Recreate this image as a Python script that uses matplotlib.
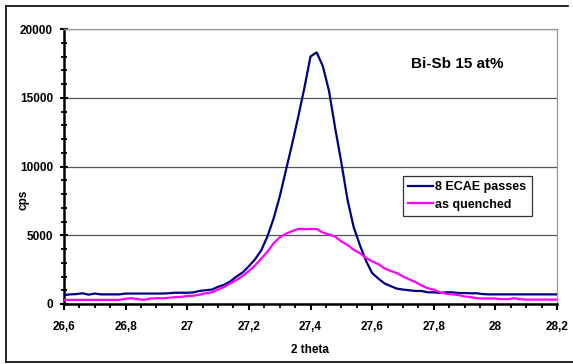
import numpy as np
import matplotlib
matplotlib.use("Agg")
import matplotlib.pyplot as plt
from matplotlib.ticker import MultipleLocator, FuncFormatter
from matplotlib.lines import Line2D

plt.rcParams['font.family'] = ['Liberation Sans', 'DejaVu Sans']
plt.rcParams['font.weight'] = 'bold'

# 2 theta sampling grid, 0.02 steps
two_theta = np.round(np.linspace(26.6, 28.2, 81), 2)

# 8 ECAE passes
ecae = [650, 700, 720, 780, 680, 760, 700, 700, 700, 700,
        760, 760, 760, 760, 760, 760, 760, 780, 820, 820,
        820, 840, 950, 1000, 1050, 1250, 1400, 1650, 2000, 2300,
        2750, 3250, 3900, 4900, 6200, 7800, 9700, 11600, 13600, 15700,
        18000, 18300, 17300, 15500, 12800, 10300, 7600, 5600, 4300, 3150,
        2250, 1850, 1500, 1300, 1120, 1050, 1000, 950, 950, 850,
        850, 800, 850, 850, 800, 800, 780, 780, 720, 700,
        700, 700, 700, 700, 700, 700, 700, 700, 700, 700, 700]

# as quenched
quenched = [300, 300, 300, 300, 300, 300, 300, 300, 300, 300,
            380, 420, 350, 300, 400, 420, 420, 450, 500, 520,
            580, 600, 680, 780, 850, 1050, 1250, 1500, 1750, 2050,
            2400, 2800, 3300, 3800, 4400, 4850, 5100, 5300, 5450, 5450,
            5450, 5450, 5200, 5050, 4900, 4550, 4300, 3950, 3700, 3350,
            3100, 2900, 2600, 2400, 2250, 2000, 1800, 1600, 1350, 1150,
            1050, 850, 750, 700, 650, 550, 500, 420, 400, 400,
            400, 350, 350, 420, 350, 320, 320, 320, 320, 320, 320]

W, H = 573, 364
fig = plt.figure(figsize=(W / 100, H / 100), dpi=100)
ax = fig.add_axes([64 / W, 1 - 304 / H, (557 - 64) / W, (304 - 29) / H])

ax.plot(two_theta, ecae, color='#000080', lw=1.6, label='8 ECAE passes', zorder=3)
ax.plot(two_theta, quenched, color='#FF00FF', lw=1.6, label='as quenched', zorder=3)

ax.set_xlim(26.6, 28.2)
ax.set_ylim(0, 20000)
ax.xaxis.set_major_locator(MultipleLocator(0.2))
ax.xaxis.set_minor_locator(MultipleLocator(0.05))
ax.yaxis.set_major_locator(MultipleLocator(5000))
ax.yaxis.set_minor_locator(MultipleLocator(1000))
ax.xaxis.set_major_formatter(FuncFormatter(lambda v, p: ('%g' % round(v, 2)).replace('.', ',')))

ax.grid(axis='y', which='major', color='#555555', lw=0.9)
ax.set_axisbelow(True)

for s in ['top', 'right']:
    ax.spines[s].set_color('#999999')
    ax.spines[s].set_linewidth(0.9)
for s in ['left', 'bottom']:
    ax.spines[s].set_color('black')
    ax.spines[s].set_linewidth(1.8)

ax.tick_params(axis='both', which='major', labelsize=8.5, width=1.5, color='black')
ax.tick_params(axis='x', which='both', direction='out')
ax.tick_params(axis='x', which='major', length=4, pad=8)
ax.tick_params(axis='x', which='minor', length=3, width=1.3)
ax.tick_params(axis='y', which='major', direction='inout', length=6, pad=5)
ax.tick_params(axis='y', which='minor', direction='inout', length=4, width=1.3)
for lab in ax.get_xticklabels() + ax.get_yticklabels():
    lab.set_fontweight('bold')

fig.text(24 / W, 1 - 200 / H, 'cps', rotation=90, ha='center', va='center',
         fontsize=8.5, fontweight='bold')
fig.text(310 / W, 1 - 350 / H, '2 theta', ha='center', va='center',
         fontsize=8.5, fontweight='bold')
fig.text(457 / W, 1 - 64 / H, 'Bi-Sb 15 at%', ha='center', va='center',
         fontsize=11, fontweight='bold')

leg = ax.legend(loc='upper left', bbox_to_anchor=(403 / W, 1 - 176 / H),
                bbox_transform=fig.transFigure, fontsize=9, frameon=True,
                fancybox=False, edgecolor='black', handlelength=2.0,
                handletextpad=0.2, borderpad=0.4, labelspacing=0.45,
                borderaxespad=0)
leg.get_frame().set_linewidth(0.9)
for t in leg.get_texts():
    t.set_fontweight('bold')

# outer chart border
fig.add_artist(Line2D([6 / W, 6 / W], [1 - 6 / H, 1 - 362 / H], color='black', lw=1.2))
fig.add_artist(Line2D([6 / W, 568 / W], [1 - 6 / H, 1 - 6 / H], color='black', lw=1.2))
fig.add_artist(Line2D([6 / W, 1], [1 - 362 / H, 1 - 362 / H], color='black', lw=1.2))

fig.savefig('out.png', dpi=100)
